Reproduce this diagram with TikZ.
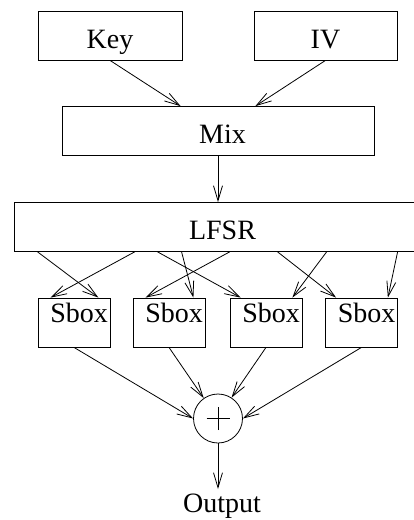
\documentclass[tikz,border=0pt]{standalone}
\usepackage{fontspec}
\setmainfont{Liberation Serif}
\usetikzlibrary{arrows.meta,positioning}

\begin{document}
\begin{tikzpicture}[x=1pt,y=-1pt,line width=0.8pt,
    font=\fontsize{28}{33}\selectfont,
    >={Straight Barb[length=15pt,width=9pt]},
    blk/.style={draw,minimum height=49pt,inner sep=3pt,text height=28pt,text depth=3pt},
    blkr/.style={blk,execute at begin node=\hspace*{9pt}},
    sbox/.style={draw,minimum height=49pt,inner xsep=2pt,inner ysep=3pt,text width=68pt,align=right,text height=21pt,text depth=21pt},
    xorbox/.style={draw,circle,minimum size=49pt,inner sep=0pt}]
  \clip (0,0) rectangle (414,520);

  % Key and IV
  \node[blk,minimum width=144pt] (key) at (110,35.5) {Key};
  \node[blk,minimum width=143pt] (iv) at (325.5,35.5) {IV};

  % Mix and LFSR
  \node[blkr,minimum width=312pt] (mix) at (218,131) {Mix};
  \node[blkr,minimum width=408pt] (lfsr) at (218,227) {LFSR};

  \draw[->] (key.south) -- ([xshift=119pt]mix.north west);
  \draw[->] (iv.south) -- ([xshift=-119pt]mix.north east);
  \draw[->] (mix.south) -- (lfsr.north);

  % Sboxes
  \node[sbox,minimum width=72pt] (s1) at (74,322.5) {Sbox};
  \node[sbox,minimum width=72pt] (s2) at (169,322.5) {Sbox};
  \node[sbox,minimum width=72pt] (s3) at (266,322.5) {Sbox};
  \node[sbox,minimum width=72pt] (s4) at (361.5,322.5) {Sbox};

  \draw[->] ([xshift=121pt]lfsr.south west) -- ([xshift=13pt]s1.north west);
  \draw[->] ([xshift=24pt]lfsr.south west) -- ([xshift=-12pt]s1.north east);
  \draw[->] ([xshift=216pt]lfsr.south west) -- ([xshift=13pt]s2.north west);
  \draw[->] ([xshift=168pt]lfsr.south west) -- ([xshift=-12pt]s2.north east);
  \draw[->] ([xshift=144pt]lfsr.south west) -- ([xshift=11pt]s3.north west);
  \draw[->] ([xshift=313pt]lfsr.south west) -- ([xshift=-10pt]s3.north east);
  \draw[->] ([xshift=264pt]lfsr.south west) -- ([xshift=11pt]s4.north west);
  \draw[->] ([xshift=384pt]lfsr.south west) -- ([xshift=-10pt]s4.north east);

  % XOR and output
  \node[xorbox] (xor) at (218,418.5) {};
  \draw ([xshift=-11.5pt]xor.center) -- ([xshift=11.5pt]xor.center);
  \draw ([yshift=-11.5pt]xor.center) -- ([yshift=11.5pt]xor.center);

  \draw[->] (s1.south) -- (xor.west);
  \draw[->] (s2.south) -- (xor.125);
  \draw[->] (s3.south) -- (xor.57);
  \draw[->] (s4.south) -- (xor.east);

  \node[anchor=base,inner sep=4pt] (out) at (222,512) {Output};
  \draw[->] (xor.south) -- (xor.south |- out.north);
\end{tikzpicture}
\end{document}
